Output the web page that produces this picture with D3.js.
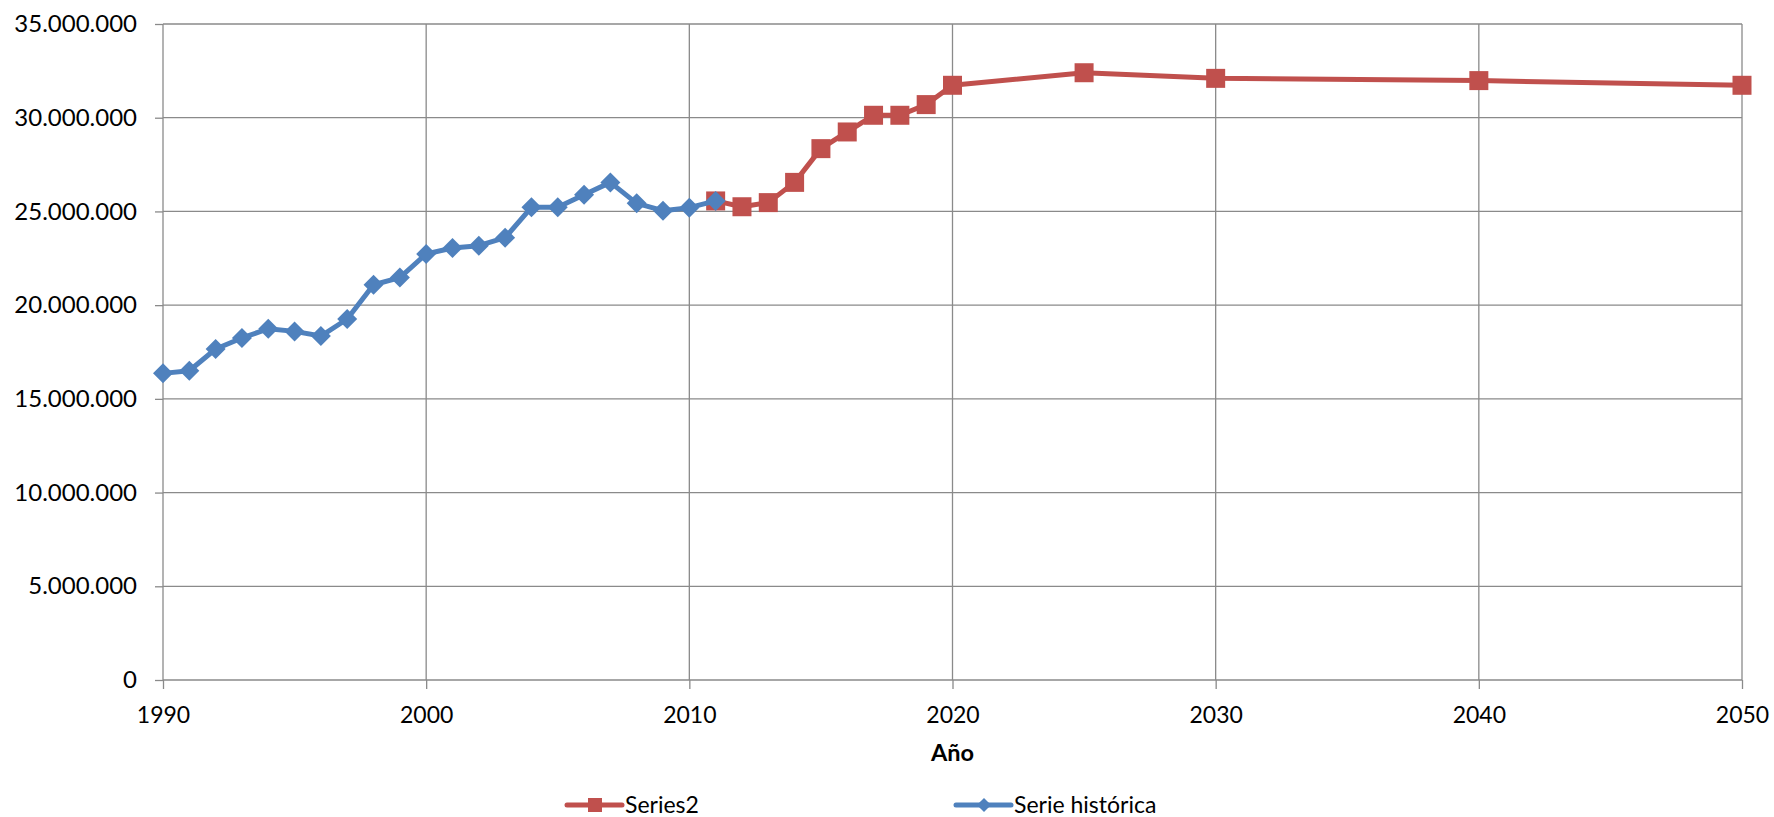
<!DOCTYPE html>
<html>
<head>
<meta charset="utf-8">
<script src="https://cdn.jsdelivr.net/npm/d3@7"></script>
<style>
  body { margin: 0; background: #fff; }
  text { font-family: Lato, "Open Sans", sans-serif; fill: #000; }
</style>
</head>
<body>
<script>
// historic series (blue)
const histYears = [1990, 1991, 1992, 1993, 1994, 1995, 1996, 1997, 1998, 1999, 2000,
  2001, 2002, 2003, 2004, 2005, 2006, 2007, 2008, 2009, 2010, 2011];
const histValues = [16360000, 16500000, 17660000, 18250000, 18740000, 18600000, 18350000,
  19260000, 21090000, 21470000, 22730000, 23050000, 23170000, 23600000, 25220000,
  25220000, 25890000, 26550000, 25430000, 25040000, 25200000, 25560000];

// Series2 (red, projection)
const projYears = [2011, 2012, 2013, 2014, 2015, 2016, 2017, 2018, 2019, 2020, 2025, 2030, 2040, 2050];
const projValues = [25560000, 25250000, 25470000, 26550000, 28350000, 29240000, 30130000,
  30130000, 30700000, 31730000, 32400000, 32100000, 31980000, 31730000];

const xTicks = [1990, 2000, 2010, 2020, 2030, 2040, 2050];
const yTicks = [0, 5000000, 10000000, 15000000, 20000000, 25000000, 30000000, 35000000];

const seriesNames = ['Series2', 'Serie histórica'];

const W = 1774, H = 817;
const margin = {
  t: 24,
  l: 163,
  r: 32,
  b: 137 };

const w = W - margin.l - margin.r;
const h = H - margin.t - margin.b;

const red = '#C0504D';
const blue = '#4F81BD';
const gridColor = '#8a8a8a';

const locale = d3.formatLocale({ decimal: ',', thousands: '.', grouping: [3], currency: ['', ''] });
const fmt = locale.format(',d');

const svg = d3.select('body').
append('svg').
attr('width', W).
attr('height', H);

const xScale = d3.scaleLinear().
domain([1990, 2050]).
range([margin.l, margin.l + w]);

const yScale = d3.scaleLinear().
domain([0, 35000000]).
range([margin.t + h, margin.t]);

// gridlines
svg.append('g').
selectAll('line').
data(yTicks).
enter().
append('line').
attr('x1', margin.l).
attr('x2', margin.l + w).
attr('y1', d => yScale(d)).
attr('y2', d => yScale(d)).
style('stroke', gridColor).
style('stroke-width', 1.3);

svg.append('g').
selectAll('line').
data(xTicks).
enter().
append('line').
attr('x1', d => xScale(d)).
attr('x2', d => xScale(d)).
attr('y1', margin.t).
attr('y2', margin.t + h).
style('stroke', gridColor).
style('stroke-width', 1.3);

// axes
const yAxis = d3.axisLeft(yScale).
tickValues(yTicks).
tickFormat(fmt).
tickSize(8).
tickPadding(18);

const yG = svg.append('g').
attr('transform', 'translate(' + margin.l + ',0)').
call(yAxis);

const xAxis = d3.axisBottom(xScale).
tickValues(xTicks).
tickFormat(d3.format('d')).
tickSize(9).
tickPadding(18);

const xG = svg.append('g').
attr('transform', 'translate(0,' + (margin.t + h) + ')').
call(xAxis);

[yG, xG].forEach(g => {
  g.select('.domain').remove();
  g.selectAll('.tick line').style('stroke', gridColor).style('stroke-width', 1.3);
  g.selectAll('.tick text').
  style('font-family', 'Lato, sans-serif').
  attr('fill', '#000');
});
yG.selectAll('.tick text').style('font-size', '24px');
xG.selectAll('.tick text').style('font-size', '23px');

// axis title
svg.append('text').
attr('x', margin.l + w / 2).
attr('y', 761).
attr('text-anchor', 'middle').
style('font-size', '23.5px').
style('font-weight', 'bold').
text('Año');

const line = d3.line().
x(d => xScale(d[0])).
y(d => yScale(d[1]));

const projData = projYears.map((y, i) => [y, projValues[i]]);
const histData = histYears.map((y, i) => [y, histValues[i]]);

const square = d3.symbol().type(d3.symbolSquare).size(361);
const diamond = d3.symbol().type(d3.symbolSquare).size(200);

// red series
svg.append('path').
datum(projData).
attr('d', line).
style('fill', 'none').
style('stroke', red).
style('stroke-width', 5).
style('stroke-linejoin', 'round');

svg.selectAll('.sq').
data(projData).
enter().
append('path').
attr('class', 'sq').
attr('d', square).
attr('transform', d => `translate(${xScale(d[0])},${yScale(d[1])})`).
style('fill', red);

// blue series
svg.append('path').
datum(histData).
attr('d', line).
style('fill', 'none').
style('stroke', blue).
style('stroke-width', 5).
style('stroke-linejoin', 'round');

svg.selectAll('.dm').
data(histData).
enter().
append('path').
attr('class', 'dm').
attr('d', diamond).
attr('transform', d => `translate(${xScale(d[0])},${yScale(d[1])}) rotate(45)`).
style('fill', blue);

// legend
const legendX = [567, 956];
const legend = svg.selectAll('.legend').
data(seriesNames).
enter().
append('g').
attr('class', 'legend').
attr('transform', (d, i) => `translate(${legendX[i]},805)`);

legend.append('line').
attr('x1', 0).
attr('x2', 55).
attr('y1', 0).
attr('y2', 0).
style('stroke', (d, i) => i === 0 ? red : blue).
style('stroke-width', 5).
style('stroke-linecap', 'round');

legend.append('path').
attr('d', (d, i) => i === 0 ? d3.symbol().type(d3.symbolSquare).size(196)() : d3.symbol().type(d3.symbolSquare).size(100)()).
attr('transform', (d, i) => i === 0 ? 'translate(28,0)' : 'translate(28,0) rotate(45)').
style('fill', (d, i) => i === 0 ? red : blue);

legend.append('text').
attr('x', 58).
attr('y', 0).
attr('dy', '0.35em').
style('font-size', '23px').
text(d => d);
</script>
</body>
</html>
